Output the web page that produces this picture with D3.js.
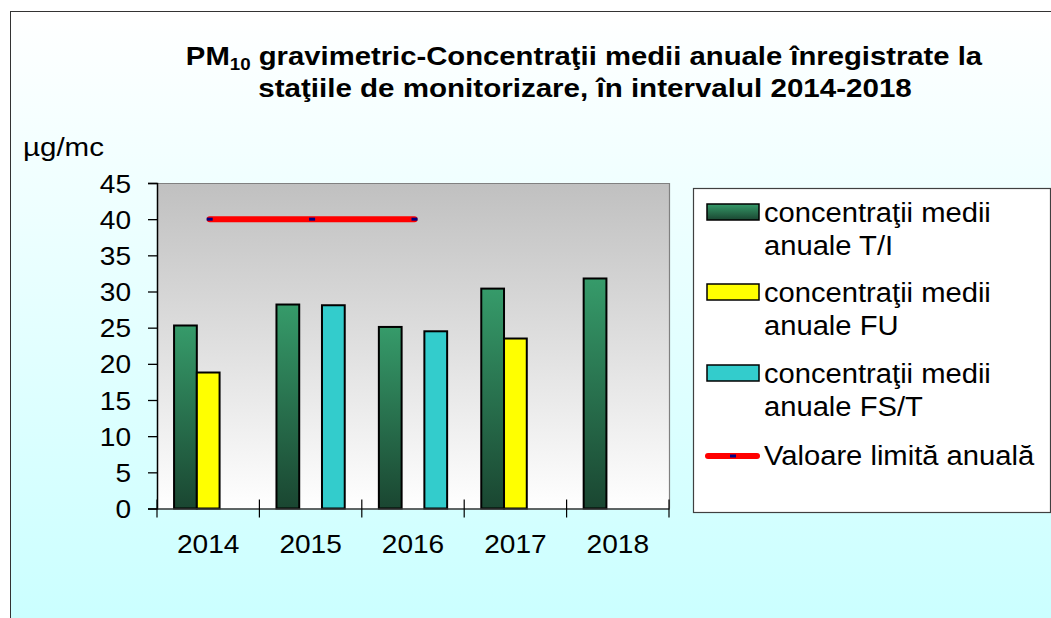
<!DOCTYPE html>
<html><head><meta charset="utf-8">
<script src="https://cdn.jsdelivr.net/npm/d3@7"></script>
<style>body{margin:0;background:#fff}svg{display:block}text{font-family:Arial,"Liberation Sans",sans-serif;fill:#000}</style>
</head><body>
<svg id="c" width="1051" height="618"></svg>
<script>
const years = ["2014","2015","2016","2017","2018"];
const seriesKeys = ["TI","FU","FST"];
const seriesTI  = [25.3, 28.2, 25.1, 30.4, 31.8];
const seriesFU  = [18.8, null, null, 23.5, null];
const seriesFST = [null, 28.1, 24.5, null, null];
const limitYears = ["2014","2015","2016"];
const limitValues = [40, 40, 40];
const yTicks = [0,5,10,15,20,25,30,35,40,45];
const legendLabels = [["concentraţii medii","anuale T/I"],["concentraţii medii","anuale FU"],["concentraţii medii","anuale FS/T"],["Valoare limită anuală"]];
const unitLabel = "µg/mc";
const titleLine1a = "PM", titleSub = "10", titleLine1b = " gravimetric-Concentraţii medii anuale înregistrate la";
const titleLine2 = "staţiile de monitorizare, în intervalul 2014-2018";

const svg = d3.select("#c");
const defs = svg.append("defs");
const SX = 1.08;
function stretch(sel, x, y, sx){ sel.attr("transform", `translate(${x},${y}) scale(${sx||SX},1)`); return sel; }
function fit(sel, x, y, w){
  sel.attr("transform", `translate(${x},${y})`);
  const bw = sel.node().getBBox().width;
  sel.attr("transform", `translate(${x},${y}) scale(${w/bw},1)`);
  return sel;
}

let g1 = defs.append("linearGradient").attr("id","bgGrad").attr("x1",0).attr("y1",0).attr("x2",0).attr("y2",1);
g1.append("stop").attr("offset",0).attr("stop-color","#ffffff");
g1.append("stop").attr("offset",1).attr("stop-color","#c8ffff");
let g2 = defs.append("linearGradient").attr("id","plotGrad").attr("x1",0).attr("y1",0).attr("x2",0).attr("y2",1);
g2.append("stop").attr("offset",0).attr("stop-color","#c0c0c0");
g2.append("stop").attr("offset",1).attr("stop-color","#ffffff");
let g3 = defs.append("linearGradient").attr("id","tiGrad").attr("x1",0).attr("y1",0).attr("x2",0).attr("y2",1);
g3.append("stop").attr("offset",0).attr("stop-color","#369b6a");
g3.append("stop").attr("offset",1).attr("stop-color","#1a4631");

const colors = {TI:"url(#tiGrad)", FU:"#ffff00", FST:"#33cccc"};

// outer frame
svg.append("rect").attr("x",10.5).attr("y",11.5).attr("width",1100).attr("height",640)
  .attr("fill","url(#bgGrad)").attr("stroke","#333").attr("stroke-width",1);

// title
const t1 = svg.append("text").attr("text-anchor","middle").attr("font-weight","bold").attr("font-size",25);
t1.append("tspan").text(titleLine1a);
t1.append("tspan").attr("font-size",16).attr("dy",5).text(titleSub);
t1.append("tspan").attr("dy",-5).text(titleLine1b);
fit(t1, 584, 65, 798);
const t2 = svg.append("text").attr("text-anchor","middle").attr("font-weight","bold").attr("font-size",25).text(titleLine2);
fit(t2, 585, 97, 654);

// plot
const PL=157, PR=669, PT=183, PB=508.5;
const x = d3.scaleBand().domain(years).range([PL,PR]).padding(0);
const xs = d3.scaleBand().domain(seriesKeys).range([0,x.bandwidth()]).paddingInner(0).paddingOuter(0.75);
const y = d3.scaleLinear().domain([0,45]).range([PB,PT]);

svg.append("rect").attr("x",PL).attr("y",PT).attr("width",PR-PL).attr("height",PB-PT).attr("fill","url(#plotGrad)");
svg.append("path").attr("d",`M${PL},${PT+0.5}H${PR+0.5}V${PB}`).attr("fill","none").attr("stroke","#808080").attr("stroke-width",1.2);

// bars
const seriesData = {TI:seriesTI, FU:seriesFU, FST:seriesFST};
const barData = [];
years.forEach((yr,i)=>seriesKeys.forEach(k=>{ const v=seriesData[k][i]; if(v!=null) barData.push({yr,k,v}); }));
svg.append("g").selectAll("rect").data(barData).join("rect")
  .attr("x",d=>x(d.yr)+xs(d.k)).attr("y",d=>y(d.v))
  .attr("width",xs.bandwidth()).attr("height",d=>y(0)-y(d.v))
  .attr("fill",d=>colors[d.k]).attr("stroke","#000").attr("stroke-width",2);

// y axis
const ya = svg.append("g").attr("transform",`translate(${PL},0)`)
  .call(d3.axisLeft(y).tickValues(yTicks).tickSize(9).tickPadding(17).tickFormat(d3.format("d")));
ya.select(".domain").attr("stroke","#000").attr("stroke-width",1.5);
ya.selectAll(".tick line").attr("stroke","#000").attr("stroke-width",1.3);
ya.selectAll(".tick text").attr("font-size",26).attr("font-family","Arial, 'Liberation Sans', sans-serif").attr("dy","0.35em")
  .attr("transform",`scale(${SX},1)`).attr("x",-26/SX);

// x axis
const xa = svg.append("g").attr("transform",`translate(0,${PB})`)
  .call(d3.axisBottom(x).tickSize(0).tickPadding(0));
xa.select(".domain").attr("stroke","#333").attr("stroke-width",1.5);
xa.selectAll(".tick text").attr("font-size",26).attr("font-family","Arial, 'Liberation Sans', sans-serif")
  .attr("dy",0).attr("y",45).attr("transform",`scale(${SX},1)`);
const bounds = years.map(d=>x(d)).concat([PR]);
svg.append("g").selectAll("line").data(bounds).join("line")
  .attr("x1",d=>d).attr("x2",d=>d).attr("y1",PB-9).attr("y2",PB+9)
  .attr("stroke","#000").attr("stroke-width",1.2);

// unit
fit(svg.append("text").attr("font-size",26).text(unitLabel), 23, 156, 81);

// limit line
const limData = limitYears.map((yr,i)=>({yr,v:limitValues[i]}));
const line = d3.line().x(d=>x(d.yr)+x.bandwidth()/2+1.5).y(d=>y(d.v));
svg.append("path").datum(limData).attr("d",line).attr("fill","none")
  .attr("stroke","#ff0000").attr("stroke-width",6).attr("stroke-linecap","round");
svg.append("g").selectAll("rect").data(limData).join("rect")
  .attr("x",d=>x(d.yr)+x.bandwidth()/2+1.5-3).attr("y",d=>y(d.v)-1.5).attr("width",6).attr("height",3).attr("fill","#000080");

// legend
svg.append("rect").attr("x",693.5).attr("y",188.5).attr("width",357).attr("height",324)
  .attr("fill","#fff").attr("stroke","#404040").attr("stroke-width",1.2);
const baselines = [222, 302, 383, 465];
const lg = svg.append("g");
legendLabels.forEach((lines,i)=>{
  const b = baselines[i];
  if(i<3){
    lg.append("rect").attr("x",707).attr("y",b-18).attr("width",52).attr("height",16)
      .attr("fill",colors[seriesKeys[i]]).attr("stroke","#000").attr("stroke-width",1.5);
  } else {
    lg.append("line").attr("x1",708).attr("x2",757).attr("y1",b-9).attr("y2",b-9)
      .attr("stroke","#ff0000").attr("stroke-width",6).attr("stroke-linecap","round");
    lg.append("rect").attr("x",730).attr("y",b-10.5).attr("width",6).attr("height",3).attr("fill","#000080");
  }
  lines.forEach((ln,j)=>{
    stretch(lg.append("text").attr("font-size",27).text(ln), 764, b + j*33);
  });
});
</script>
</body></html>
